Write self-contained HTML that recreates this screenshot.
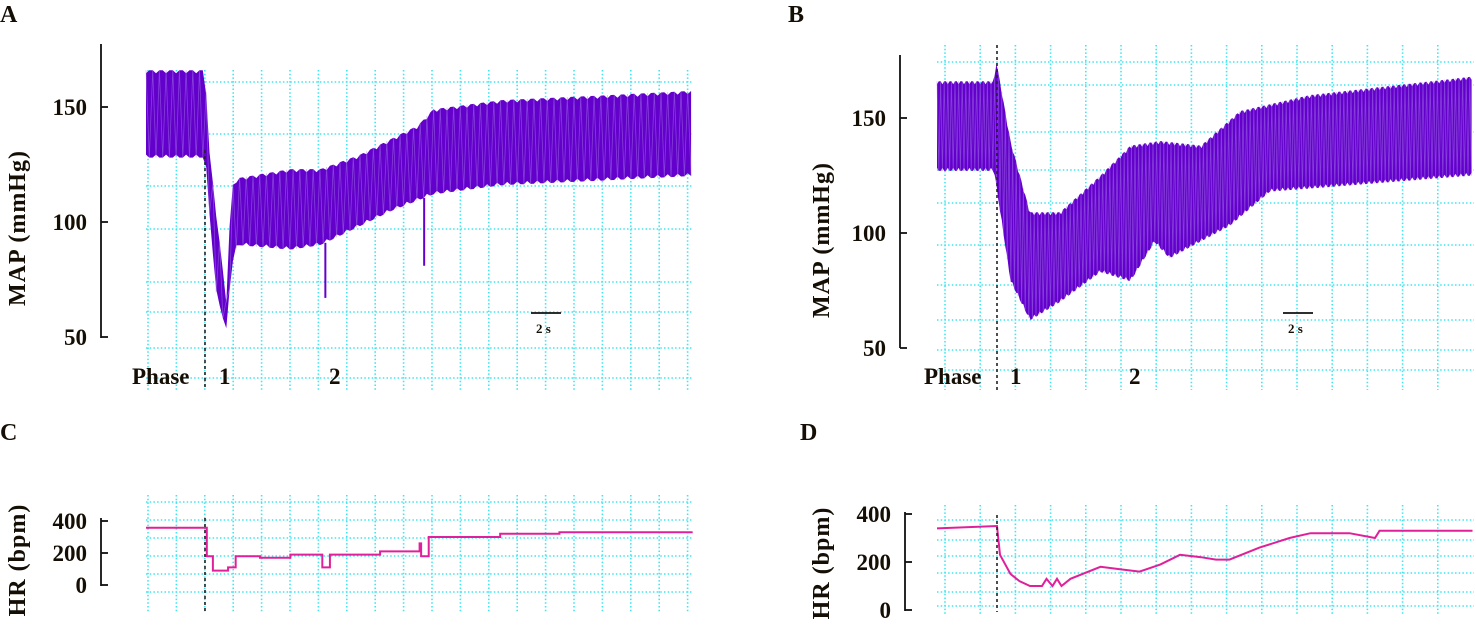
<!DOCTYPE html>
<html><head><meta charset="utf-8"><style>
html,body{margin:0;padding:0;background:#fff;}
svg{display:block;font-family:"Liberation Serif",serif;}
.lbl{font-weight:bold;fill:#140e04;}
</style></head><body>
<svg id="fig" width="1476" height="633" viewBox="0 0 1476 633" xmlns="http://www.w3.org/2000/svg">
<g id="grid"></g>
<g id="series"></g>
<g id="axes"></g>
<text class="lbl" x="0" y="22" font-size="24">A</text>
<text class="lbl" x="788" y="22" font-size="24">B</text>
<text class="lbl" x="0" y="440" font-size="24">C</text>
<text class="lbl" x="800" y="440" font-size="24">D</text>
<text class="lbl" font-size="24" letter-spacing="1" transform="translate(25,228) rotate(-90)" text-anchor="middle">MAP   (mmHg)</text>
<text class="lbl" font-size="24" letter-spacing="1" transform="translate(829,240) rotate(-90)" text-anchor="middle">MAP   (mmHg)</text>
<text class="lbl" font-size="24" letter-spacing="1" transform="translate(25,560) rotate(-90)" text-anchor="middle">HR  (bpm)</text>
<text class="lbl" font-size="24" letter-spacing="1" transform="translate(829,563) rotate(-90)" text-anchor="middle">HR  (bpm)</text>
<text class="lbl" x="132" y="384" font-size="23">Phase</text>
<text class="lbl" x="219" y="384" font-size="23">1</text>
<text class="lbl" x="329" y="384" font-size="23">2</text>
<text class="lbl" x="924" y="384" font-size="23">Phase</text>
<text class="lbl" x="1010" y="384" font-size="23">1</text>
<text class="lbl" x="1129" y="384" font-size="23">2</text>
<line x1="531" y1="313" x2="561" y2="313" stroke="#111" stroke-width="1.8"/>
<text class="lbl" x="536" y="333" font-size="13">2 s</text>
<line x1="1283" y1="313" x2="1313" y2="313" stroke="#111" stroke-width="1.8"/>
<text class="lbl" x="1288" y="333" font-size="13">2 s</text>
</svg>
<script>
const NS="http://www.w3.org/2000/svg";
// Panel A MAP envelopes (time s, mmHg)
const aUpT=[0,3.9,4.1,4.6,5.3,5.6,6.0,9.5,11.5,14.0,17.9,18.9,23.4,30,35.9];
const aUpV=[166,166,135,105,65,115,119,123,123,129,142,149,153,155,157];
const aLoT=[0,3.9,4.1,4.6,5.3,5.6,6.0,9.5,11.5,16.2,18.9,23.4,30,35.9];
const aLoV=[128,128,110,70,52,80,90,88,90,105,112,116,118,120];
const aSpikeT=[11.8,18.3];
const aSpikeV=[67,81];
// Panel B MAP envelopes
const bUpT=[0,3.8,3.95,4.9,6.2,8.2,10.9,12.9,14.9,17.6,20.2,24.9,35.7];
const bUpV=[166,166,175,140,109,109,125,138,140,138,153,160,168];
const bLoT=[0,3.8,4.9,6.2,8.2,10.9,12.9,14.5,15.5,19.5,22.2,26.2,35.7];
const bLoV=[127,127,79,62,70,83,79,96,89,103,118,120,125];
// Panel C HR (step)
const cT=[0,3.9,4.0,4.4,5.4,5.9,7.5,9.5,11.6,12.1,15.4,18.0,18.1,18.6,23.3,27.2,35.9];
const cV=[358,358,180,90,110,180,170,190,110,190,210,260,180,300,320,330,335];
// Panel D HR
const dT=[0,4.0,4.2,4.9,5.5,6.2,7.0,7.3,7.7,8.0,8.3,8.9,10.9,12.2,13.5,14.9,16.2,17.6,18.6,19.5,21.5,23.5,24.9,27.5,29.2,29.5,35.7];
const dV=[340,350,230,150,120,100,100,130,100,130,100,130,180,170,160,190,230,220,210,210,260,300,320,320,300,330,330];

const xA=t=>146+t*15.2, yA=v=>337-(v-50)*2.3;
const xB=t=>937+t*15, yB=v=>348-(v-50)*2.3;
const yC=v=>585-v*0.16, yD=v=>610-v*0.24;

function interp(T,V,t){if(t<=T[0])return V[0];for(let i=1;i<T.length;i++){if(t<=T[i]){const f=(t-T[i-1])/(T[i]-T[i-1]);return V[i-1]+f*(V[i]-V[i-1]);}}return V[V.length-1];}
function mk(tag,attrs,parent){const e=document.createElementNS(NS,tag);for(const k in attrs)e.setAttribute(k,attrs[k]);parent.appendChild(e);return e;}

const grid=document.getElementById('grid'), series=document.getElementById('series'), axes=document.getElementById('axes');
const gc="#3ee6f2";
function gridLines(xs,ys,x0,x1,y0,y1){
  xs.forEach(x=>{const l=mk('line',{x1:x,y1:y0,x2:x,y2:y1,stroke:gc,'stroke-width':1.6,'stroke-dasharray':'1.5 2.2'},grid);
    });
  ys.forEach(y=>{const l=mk('line',{x1:x0,y1:y,x2:x1,y2:y,stroke:gc,'stroke-width':1.6,'stroke-dasharray':'1.5 2.2'},grid);
    });
}
const gA=[];for(let x=148;x<=692;x+=28.4)gA.push(x);
gridLines(gA,[82,134,186,229,282,312,348,378],146,692,70,390);
const gB=[];for(let x=945;x<=1472;x+=35.2)gB.push(x);
gridLines(gB,[62,85,132,170,203,245,285,320,350,370],937,1474,45,390);
gridLines(gA,[502,520,538,556,574,592],146,692,495,612);
gridLines(gB,[520,540,556,573,592,606],937,1474,505,615);

function band(upT,upV,loT,loV,tmax,X,Y,period,name){
  const n=Math.floor(tmax/period);let up=[],lo=[];
  for(let i=0;i<=n;i++){const t=i*period;const j=(i%3===0?3:0);up.push(X(t).toFixed(1)+','+(Y(interp(upT,upV,t))+j).toFixed(1));lo.push(X(t).toFixed(1)+','+(Y(interp(loT,loV,t))-j).toFixed(1));}
  const p=mk('polygon',{points:up.concat(lo.reverse()).join(' '),fill:'#6400cc'},series);
  
  let d='';for(let i=0;i<=n;i++){const t=i*period;const v=(i%2?interp(loT,loV,t):interp(upT,upV,t));d+=(i?'L':'M')+X(t).toFixed(1)+','+Y(v).toFixed(1);}
  const l=mk('path',{d:d,fill:'none',stroke:'#a77ee8','stroke-width':0.8,opacity:0.5},series);
  
}
band(aUpT,aUpV,aLoT,aLoV,35.9,xA,yA,0.22,'panel-a-map');
band(bUpT,bUpV,bLoT,bLoV,35.7,xB,yB,0.12,'panel-b-map');
aSpikeT.forEach((t,i)=>{const l=mk('line',{x1:xA(t),y1:yA(interp(aLoT,aLoV,t)),x2:xA(t),y2:yA(aSpikeV[i]),stroke:'#6400cc','stroke-width':2},series);
  });

let dc='';cT.forEach((t,i)=>{if(i===0)dc='M'+xA(t)+','+yC(cV[i]);else dc+='L'+xA(t)+','+yC(cV[i-1])+'L'+xA(t)+','+yC(cV[i]);});
const pc=mk('path',{d:dc,fill:'none',stroke:'#e0209a','stroke-width':2},series);

let dd='';dT.forEach((t,i)=>{dd+=(i?'L':'M')+xB(t).toFixed(1)+','+yD(dV[i]).toFixed(1);});
const pd=mk('path',{d:dd,fill:'none',stroke:'#e0209a','stroke-width':2},series);


[[205,150,390],[997,45,390],[205,518,612],[997,515,612]].forEach(a=>{const l=mk('line',{x1:a[0],y1:a[1],x2:a[0],y2:a[2],stroke:'#222','stroke-width':1.6,'stroke-dasharray':'3 3'},axes);
  });

function yAxis(x,y0,y1,ticks,Yf,name,fs){
  const a=mk('line',{x1:x,y1:y0,x2:x,y2:y1,stroke:'#111','stroke-width':1.8},axes);
  
  ticks.forEach(v=>{const y=Yf(v);const t=mk('line',{x1:x,y1:y,x2:x+7,y2:y,stroke:'#111','stroke-width':1.8},axes);
    
    const tx=mk('text',{x:x-14,y:y+8,'font-size':fs,'text-anchor':'end','class':'lbl'},axes);tx.textContent=v;
    });
}
const mapTicks=[50,100,150], hrTicks=[0,200,400];
yAxis(101,44,338,mapTicks,yA,'panel-a-y',23);
yAxis(900,55,348,mapTicks,yB,'panel-b-y',23);
yAxis(101,518,586,hrTicks,yC,'panel-c-y',23);
yAxis(905,512,611,hrTicks,yD,'panel-d-y',23);
</script>
</body></html>
